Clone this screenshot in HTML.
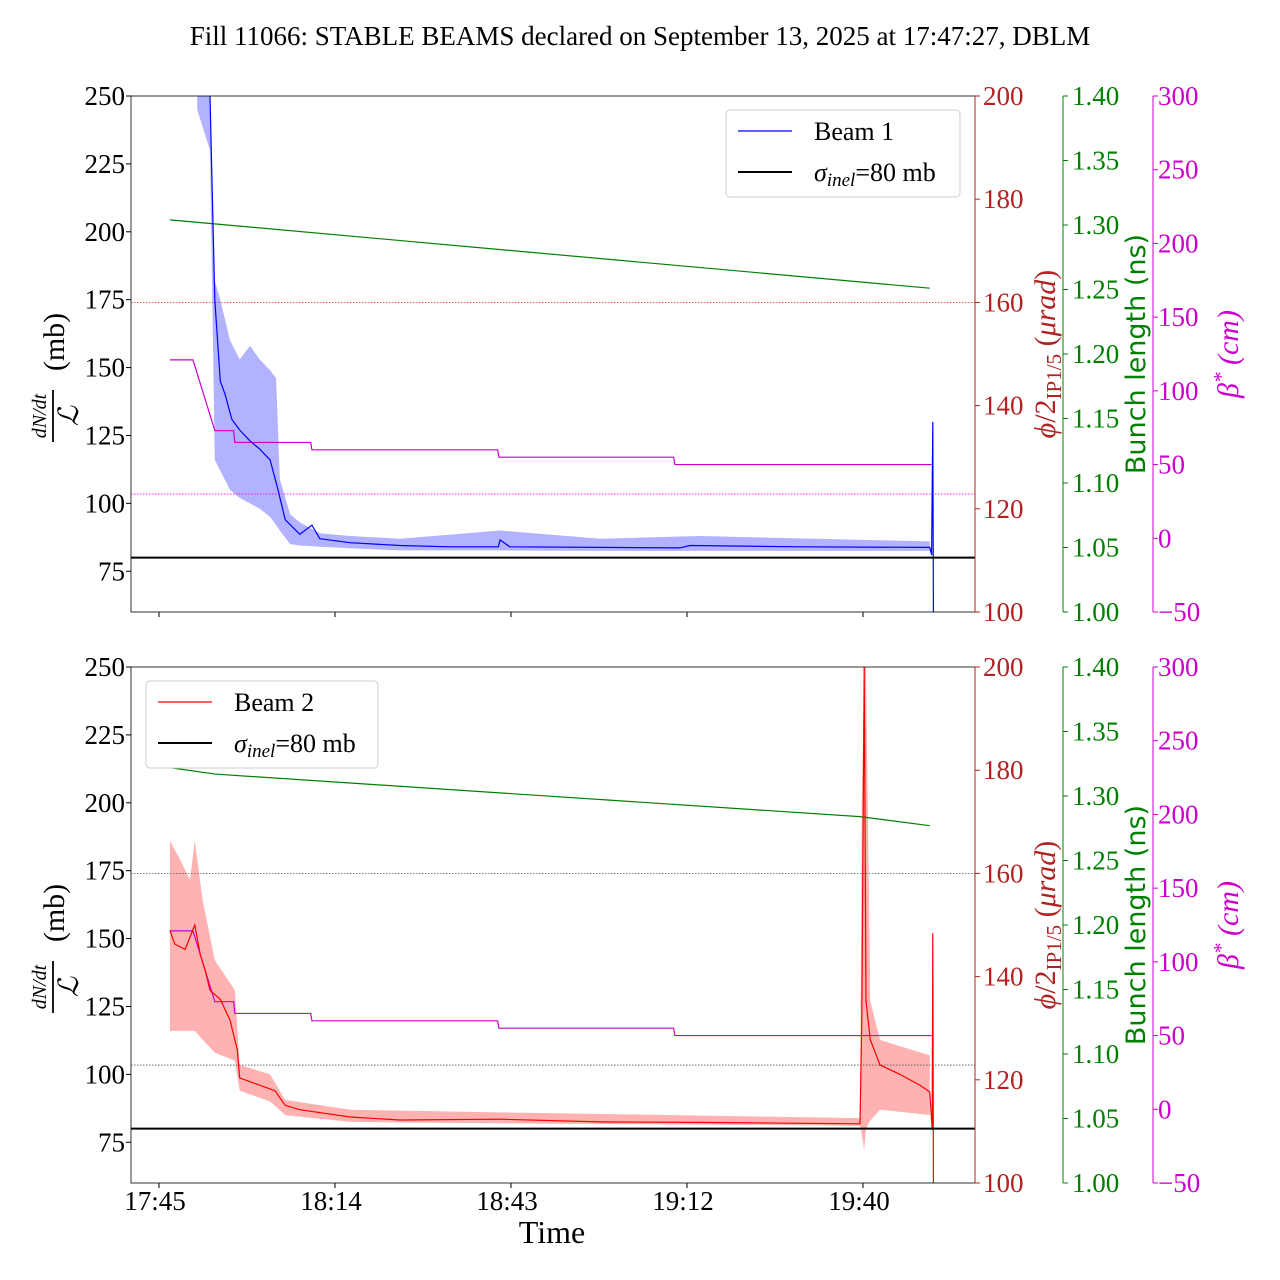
<!DOCTYPE html>
<html><head><meta charset="utf-8"><style>
body{margin:0;background:#fff;}
svg{display:block;font-family:"Liberation Serif",serif;}
</style></head><body>
<svg id="chart" width="1280" height="1280" viewBox="0 0 1280 1280" xmlns="http://www.w3.org/2000/svg">
<text x="640" y="45" font-size="27" text-anchor="middle">Fill 11066: STABLE BEAMS declared on September 13, 2025 at 17:47:27, DBLM</text>
</svg>
<script>
// ---- data (time in minutes after 17:45 tick) ----
const xTickLabels = ["17:45","18:14","18:43","19:12","19:40"];
const xTickMinutes = [0,29,58,87,116];
const yTicks = [75,100,125,150,175,200,225,250];
const redTicks = [100,120,140,160,180,200];
const greenTicks = [1.00,1.05,1.10,1.15,1.20,1.25,1.30,1.35,1.40];
const magTicks = [-50,0,50,100,150,200,250,300];

const b1T = [8.4,9.2,10.1,10.9,12.0,13.3,15.0,16.6,18.3,19.6,20.8,23.2,25.2,26.5,31.5,39.7,47.9,55.9,56.2,57.8,72.7,85.8,87.5,105.6,127.0,127.3,127.5,127.6];
const b1V = [250,175,145,140,131,127,123,120,116,105,94,88.6,92,87,85.5,84.5,84,84,86.5,84,83.8,83.6,84.5,84,83.8,81,130,60];
const b1BandT = [6.3,8.4,9.2,10.1,11.7,13.3,15.0,16.6,18.3,19.3,19.9,21.6,23.2,26.5,31.5,39.7,56.2,72.7,89.1,127.0];
const b1Up = [250,250,182,175,160,153,158,153,149,146,109,96,93,89,88,87,90,87,88,86];
const b1Lo = [245,230,116,112,105,102,100,98,95,92,90,85,84.5,84,83.5,82.7,82.7,82.5,82.5,82.5];

const b2T = [1.8,2.6,4.3,5.9,6.8,7.6,8.4,10.1,11.7,12.9,13.3,16.6,19.1,20.8,23.2,31.5,39.7,56.2,72.7,89.1,115.5,115.8,116.2,116.5,117.2,118.8,122.1,125.4,127.0,127.4,127.5,127.6];
const b2V = [153,148,146,155,144,138.5,131,127.6,120,109,98.7,96,94,88.6,87,84.3,83.2,83.5,82.5,82.3,81.8,120,250,127,112.7,103.5,100,96,93.5,79.5,152,60];
const b2BandT = [1.8,3.5,5.1,5.9,7.2,9.2,12.5,13.3,18.3,20.8,31.5,56.2,115.5,115.8,116.2,116.5,117.2,118.8,127.0];
const b2Up = [186,179,171.6,186,164,142,131,103.5,100,90.6,87,86,83.9,200,250,250,127,112.7,107];
const b2Lo = [116,116,116,116,112.7,108,105,94,90,85,82.5,82,81.1,78,72,80,83,87,85];

const bunch1T = [1.8,127.0]; const bunch1V = [1.304,1.251];
const bunch2T = [1.8,9.2,115.5,127.0]; const bunch2V = [1.322,1.317,1.284,1.277];
const betaT = [1.8,5.6,9.2,12.3,12.5,25.0,25.2,55.8,56.0,84.8,85.0,127.3];
const betaV = [121,121,73,73,65,65,60,60,55,55,50,50];
const crossingRef = 160; const betaRef = 30; const sigmaInel = 80;

// ---- geometry ----
const svg = document.getElementById('chart');
const NS = "http://www.w3.org/2000/svg";
const X0=131, X1=975;
const xs = t => 159 + t*176/29;
function el(tag, attrs, parent){const e=document.createElementNS(NS,tag);for(const k in attrs)e.setAttribute(k,attrs[k]);(parent||svg).appendChild(e);return e;}
function txt(s, attrs, parent){const e=el('text',attrs,parent);e.textContent=s;return e;}

function panel(top, idx){
  const H=516, bot=top+H;
  const ys = v => top + (250-v)/190*H;
  const yr = v => top + (200-v)/100*H;
  const yg = v => top + (1.40-v)/0.40*H;
  const ym = v => top + (300-v)/350*H;
  const g = el('g',{});
  
  
  const cid='clip'+idx;
  const cp=el('clipPath',{id:cid},g); el('rect',{x:X0,y:top,width:X1-X0,height:H},cp);
  const d=el('g',{'clip-path':`url(#${cid})`},g);
  const beamT = idx===1?b1T:b2T, beamV = idx===1?b1V:b2V;
  const bT = idx===1?b1BandT:b2BandT, bU=idx===1?b1Up:b2Up, bL=idx===1?b1Lo:b2Lo;
  const col = idx===1?'#0000ff':'#ff0000', fillc = idx===1?'rgba(0,0,255,0.3)':'rgba(255,0,0,0.3)';
  let p='';
  bT.forEach((t,i)=>{p+=(i?'L':'M')+xs(t).toFixed(1)+','+ys(bU[i]).toFixed(1);});
  for(let i=bT.length-1;i>=0;i--) p+='L'+xs(bT[i]).toFixed(1)+','+ys(bL[i]).toFixed(1);
  const band=el('path',{d:p+'Z',fill:fillc,stroke:'none'},d);
  
  
  const rl=el('line',{x1:X0,x2:X1,y1:yr(crossingRef),y2:yr(crossingRef),stroke:idx===1?'#d62728':'#555',"stroke-width":0.8,"stroke-dasharray":"1.5,1.5"},d);
   
  const ml=el('line',{x1:X0,x2:X1,y1:ym(betaRef),y2:ym(betaRef),stroke:idx===1?'#ff00ff':'#555',"stroke-width":0.8,"stroke-dasharray":"1.5,1.5"},d);
   
  const bt=idx===1?bunch1T:bunch2T, bv=idx===1?bunch1V:bunch2V;
  const gl=el('polyline',{points:bt.map((t,i)=>xs(t)+','+yg(bv[i])).join(' '),fill:'none',stroke:'#008000',"stroke-width":1.2},d);
   
  const bl=el('polyline',{points:betaT.map((t,i)=>xs(t)+','+ym(betaV[i])).join(' '),fill:'none',stroke:'#cc00cc',"stroke-width":1.2},d);
   
  const ln=el('polyline',{points:beamT.map((t,i)=>xs(t).toFixed(1)+','+ys(beamV[i]).toFixed(1)).join(' '),fill:'none',stroke:col,"stroke-width":1.2},d);
   
  const sl=el('line',{x1:X0,x2:X1,y1:ys(sigmaInel),y2:ys(sigmaInel),stroke:'#000',"stroke-width":2},d);
   
  el('rect',{x:X0,y:top,width:X1-X0,height:H,fill:'none',stroke:'#000',"stroke-width":0.8},g);
  el('line',{x1:X1,x2:X1,y1:top,y2:bot,stroke:'#b22222',"stroke-width":1},g);
  el('line',{x1:1063,x2:1063,y1:top,y2:bot,stroke:'#008000',"stroke-width":1},g);
  el('line',{x1:1153,x2:1153,y1:top,y2:bot,stroke:'#cc00cc',"stroke-width":1},g);
  yTicks.forEach(v=>{const y=ys(v);el('line',{x1:X0-5,x2:X0,y1:y,y2:y,stroke:'#000'},g);
    const t=txt(String(v),{x:X0-6,y:y+9,'font-size':27,'text-anchor':'end'},g);
     });
  redTicks.forEach(v=>{const y=yr(v);el('line',{x1:X1,x2:X1+5,y1:y,y2:y,stroke:'#b22222'},g);
    txt(String(v),{x:X1+8,y:y+9,'font-size':27,fill:'#b22222'},g);});
  greenTicks.forEach(v=>{const y=yg(v);el('line',{x1:1063,x2:1068,y1:y,y2:y,stroke:'#008000'},g);
    txt(v.toFixed(2),{x:1072,y:y+9,'font-size':27,fill:'#008000'},g);});
  magTicks.forEach(v=>{const y=ym(v);el('line',{x1:1153,x2:1158,y1:y,y2:y,stroke:'#cc00cc'},g);
    txt(v<0?'\u2212'+(-v):String(v),{x:1158,y:y+9,'font-size':27,fill:'#cc00cc'},g);});
  xTickMinutes.forEach((m,i)=>{const x=xs(m);el('line',{x1:x,x2:x,y1:bot,y2:bot+5,stroke:'#000'},g);
    if(idx===2){const t=txt(xTickLabels[i],{x:x-4,y:bot+27,'font-size':27,'text-anchor':'middle'},g);
       }});
  const cy=top+H/2;
  const yl=el('g',{transform:`translate(58,${cy+4}) rotate(-90)`},g);
   
  txt('dN/dt',{x:-58,y:-12,'font-size':20,'font-style':'italic','text-anchor':'middle'},yl);
  el('line',{x1:-84,x2:-32,y1:-5,y2:-5,stroke:'#000','stroke-width':1.8},yl);
  txt('\u2112',{x:-58,y:20,'font-size':28,'font-style':'italic','text-anchor':'middle'},yl);
  txt('(mb)',{x:16,y:6,'font-size':30,'text-anchor':'middle'},yl);
  const rt=txt('',{transform:`translate(1055,${cy}) rotate(-90)`,'font-size':30,fill:'#b22222','text-anchor':'middle'},g);
  rt.innerHTML='<tspan font-style="italic">\u03d5</tspan>/2<tspan font-size="21" dy="6">IP1/5</tspan><tspan dy="-6"> (</tspan><tspan font-style="italic">\u03bcrad</tspan>)';
   
  const gt=txt('Bunch length (ns)',{transform:`translate(1145,${cy}) rotate(-90)`,'font-size':27,fill:'#008000','text-anchor':'middle','font-family':'DejaVu Sans, sans-serif'},g);
   
  const mt=txt('',{transform:`translate(1238,${cy}) rotate(-90)`,'font-size':30,fill:'#cc00cc','text-anchor':'middle','font-style':'italic'},g);
  mt.innerHTML='\u03b2<tspan dy="-10" font-size="21">*</tspan><tspan dy="10"> (cm)</tspan>';
   
  const lx = idx===1?726:146, ly = top+14;
  const lg=el('g',{},g);
   
  el('rect',{x:lx,y:ly,width:idx===1?234:232,height:87,rx:4,fill:'#fff',stroke:'#ccc'},lg);
  el('line',{x1:lx+12,x2:lx+66,y1:ly+21,y2:ly+21,stroke:col,'stroke-width':1.2},lg);
  txt(idx===1?'Beam 1':'Beam 2',{x:lx+88,y:ly+30,'font-size':26},lg);
  el('line',{x1:lx+12,x2:lx+66,y1:ly+62,y2:ly+62,stroke:'#000','stroke-width':2},lg);
  const s=txt('',{x:lx+88,y:ly+71,'font-size':26},lg);
  s.innerHTML='<tspan font-style="italic">\u03c3</tspan><tspan font-size="19" dy="5" font-style="italic">inel</tspan><tspan dy="-5">=80 mb</tspan>';
}
panel(96,1);
panel(667,2);
const xt=txt('Time',{x:552,y:1243,'font-size':32,'text-anchor':'middle'});


</script>
</body></html>
